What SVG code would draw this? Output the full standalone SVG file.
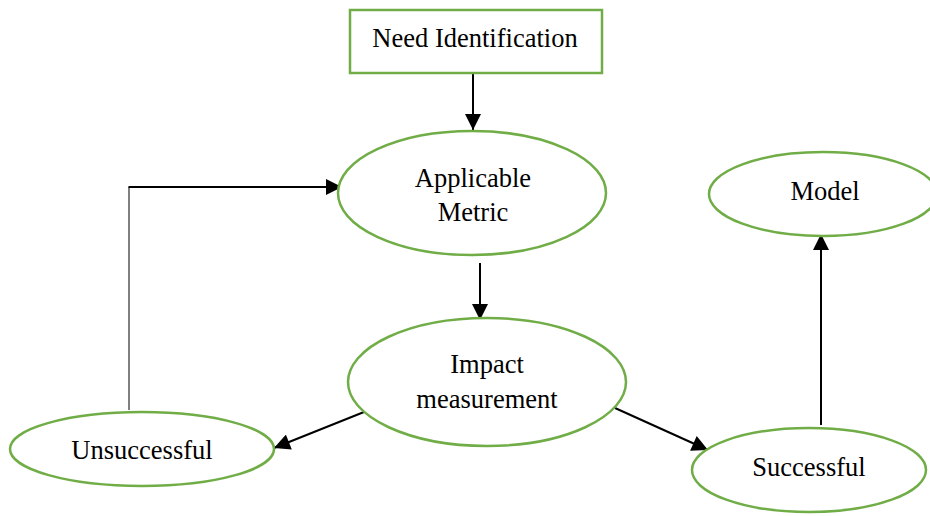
<svg xmlns="http://www.w3.org/2000/svg" width="930" height="516" viewBox="0 0 930 516">
<style>
.n{fill:#fff;stroke:#70AD47;stroke-width:2.5}
.t{font-family:"Liberation Serif","Times New Roman",serif;font-size:26.5px;fill:#000;text-anchor:middle}
.c{stroke:#000;stroke-width:2;fill:none}
</style>
<defs>
<marker id="b" viewBox="0 0 10 10" refX="10" refY="5" markerWidth="8.5" markerHeight="8" orient="auto">
<path d="M0,0L10,5L0,10z" fill="#000"/>
</marker>
</defs>
<rect width="930" height="516" fill="#fff"/>
<g id="connectors">
<line class="c" x1="473" y1="73" x2="473" y2="130" marker-end="url(#b)"/>
<line class="c" x1="480" y1="263" x2="480" y2="320" marker-end="url(#b)"/>
<line class="c" x1="364" y1="412" x2="274" y2="448" marker-end="url(#b)"/>
<line class="c" x1="615" y1="408" x2="708" y2="450" marker-end="url(#b)"/>
<line class="c" x1="821" y1="425" x2="821" y2="234" marker-end="url(#b)"/>
<polyline points="129,410 129,187" stroke="#000" stroke-width="1" fill="none"/>
<line class="c" x1="128.5" y1="187" x2="342" y2="187" marker-end="url(#b)"/>
</g>
<g id="need">
<rect class="n" x="350" y="10" width="252" height="63"/>
<text class="t" x="475" y="47">Need Identification</text>
</g>
<g id="metric">
<ellipse class="n" cx="472" cy="193" rx="134" ry="62"/>
<text class="t" x="473" y="187">Applicable</text>
<text class="t" x="473" y="221">Metric</text>
</g>
<g id="impact">
<ellipse class="n" cx="487" cy="382" rx="139" ry="64"/>
<text class="t" x="487" y="373">Impact</text>
<text class="t" x="487" y="408">measurement</text>
</g>
<g id="unsuccessful">
<ellipse class="n" cx="142" cy="449" rx="132" ry="37"/>
<text class="t" x="142" y="459">Unsuccessful</text>
</g>
<g id="successful">
<ellipse class="n" cx="809" cy="470" rx="117" ry="42"/>
<text class="t" x="809" y="476">Successful</text>
</g>
<g id="model">
<ellipse class="n" cx="823" cy="194" rx="114" ry="42"/>
<text class="t" x="825" y="200">Model</text>
</g>
</svg>
